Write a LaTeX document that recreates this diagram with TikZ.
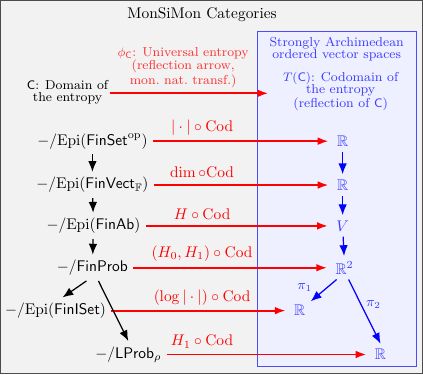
\documentclass[tikz,border=0pt]{standalone}
\usepackage{amsmath}
\usepackage{amssymb}
\usepackage{xcolor}
\usepackage{tikz}
\usetikzlibrary{shapes, arrows, arrows.meta, positioning, calc}

\definecolor{framegray}{RGB}{242,242,242}
\definecolor{boxblue}{RGB}{238,240,255}
\definecolor{txtblue}{RGB}{60,60,255}

\begin{document}
\begin{tikzpicture}[x=0.0227cm,y=-0.0227cm,
    redarr/.style={very thick,red,-{Latex[length=7pt,width=5pt]},shorten >=2pt},
    blackarr/.style={thick,black,-{Latex[length=7pt,width=5.5pt]}},
    bluearr/.style={thick,blue,-{Latex[length=7pt,width=5.5pt]}},
    smalltxt/.style={align=center,font=\fontsize{8.4}{7.9}\selectfont},
    redlab/.style={smalltxt,text=red!80},
    bluelab/.style={smalltxt,text=txtblue}]
  % frame and title
  \fill[framegray,draw=black!70,thick] (0,0) rectangle (423,374);
  \node (title) at (202,14) {MonSiMon Categories};

  % ordered vector spaces
  \fill[boxblue,draw=blue!70,thin] (257,31) rectangle (417,367);
  \node[bluelab] (ovs) at (337,49) {Strongly Archimedean\\ordered vector spaces};

  % domain and codomain
  \node[smalltxt] (dom) at (67,92) {$\mathsf{C}$: Domain of\\the entropy};
  \node[bluelab] (cod) at (341,91) {$T(\mathsf{C})$: Codomain of\\the entropy\\(reflection of $\mathsf{C}$)};
  \draw[redarr,shorten >=6pt,shorten <=-2pt] (dom.east |- 0,93) -- (cod.west |- 0,93);
  \node[redlab] (phi) at (183,67)
    {$\phi_{\mathsf{C}}$: Universal entropy\\(reflection arrow,\\mon.\ nat.\ transf.)};

  % categories
  \node (finset) at (92,141) {$-/\mathrm{Epi}(\mathsf{FinSet}^{\mathrm{op}})$};
  \node (finvect) at (92,185) {$-/\mathrm{Epi}(\mathsf{FinVect}_{\mathbb{F}})$};
  \node (finab) at (93,226) {$-/\mathrm{Epi}(\mathsf{FinAb})$};
  \node (finprob) at (92,268) {$-/\mathsf{FinProb}$};
  \node (finiset) at (55,311) {$-/\mathrm{Epi}(\mathsf{FinISet})$};
  \node (lprob) at (128,355) {$-/\mathsf{LProb}_{\rho}$};

  % targets
  \node[txtblue] (r1) at (343,141) {$\mathbb{R}$};
  \node[txtblue] (r2) at (343,185) {$\mathbb{R}$};
  \node[txtblue] (v) at (343,226) {$V$};
  \node[txtblue] (rr) at (345,268) {$\mathbb{R}^2$};
  \node[txtblue] (r3) at (300,311) {$\mathbb{R}$};
  \node[txtblue] (r4) at (381,355) {$\mathbb{R}$};

  % entropy arrows
  \draw[redarr] (finset) -- (r1);
  \draw[redarr] (finvect) -- (r2);
  \draw[redarr] (finab) -- (v);
  \draw[redarr] (finprob) -- (rr);
  \draw[redarr] (finiset) -- (r3);
  \draw[redarr] (lprob) -- (r4);
  \node[red] (l1) at (202,127) {$|\cdot|\circ\mathrm{Cod}$};
  \node[red] (l2) at (202,172) {$\dim\circ\mathrm{Cod}$};
  \node[red] (l3) at (202,214) {$H\circ\mathrm{Cod}$};
  \node[red] (l4) at (202,254) {$(H_0,H_1)\circ\mathrm{Cod}$};
  \node[red] (l5) at (202,298) {$(\log|\cdot|)\circ\mathrm{Cod}$};
  \node[red] (l6) at (202,342) {$H_1\circ\mathrm{Cod}$};

  % functors between categories
  \draw[blackarr] (finset) -- (finvect);
  \draw[blackarr] (finvect) -- (finab);
  \draw[blackarr] (finab) -- (finprob);
  \draw[blackarr] ($(finprob.south)+(-6,0)$) -- ($(finiset.north)+(7,0)$);
  \draw[blackarr] ($(finprob.south)+(6,0)$) -- (lprob.north);

  % maps between spaces
  \draw[bluearr] (r1) -- (r2);
  \draw[bluearr] (r2) -- (v);
  \draw[bluearr] (v) -- (rr);
  \draw[bluearr] ($(rr.south)+(-8,0)$) -- (r3);
  \draw[bluearr] ($(rr.south)+(4,0)$) -- (r4.north);
  \node[txtblue,font=\small] (p1) at (305,288) {$\pi_1$};
  \node[txtblue,font=\small] (p2) at (374,305) {$\pi_2$};
\end{tikzpicture}
\end{document}
